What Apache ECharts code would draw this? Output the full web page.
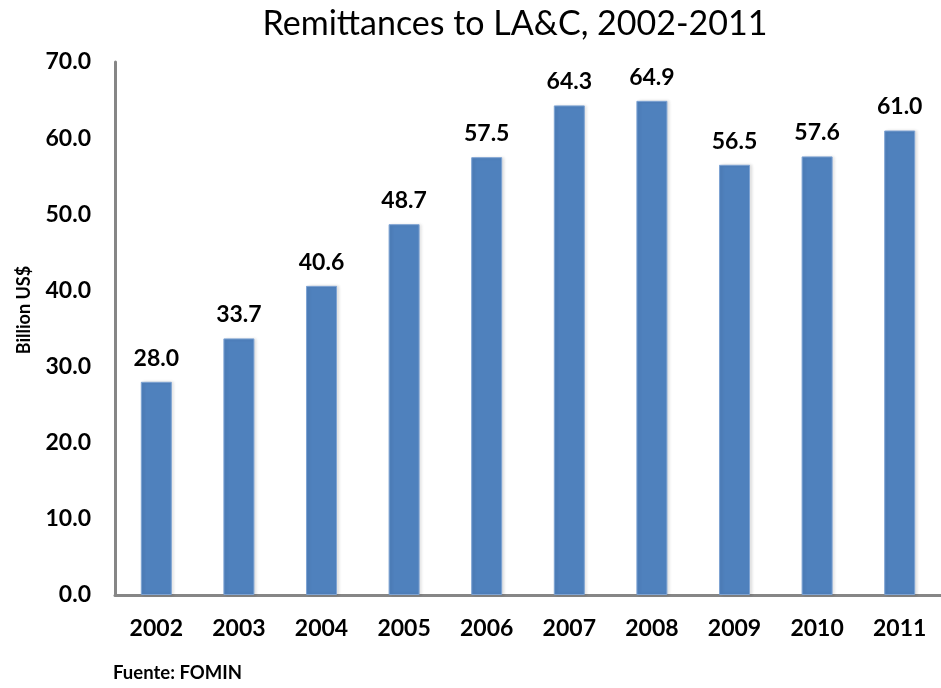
<!DOCTYPE html>
<html>
<head>
<meta charset="utf-8">
<script src="https://cdn.jsdelivr.net/npm/echarts@6/dist/echarts.min.js"></script>
<style>
  html, body { margin: 0; padding: 0; background: #fff; }
  #chart { width: 941px; height: 688px; }
</style>
</head>
<body>
<div id="chart"></div>
<script>
// Annual remittances to Latin America & Caribbean, billion US$
const years = ['2002', '2003', '2004', '2005', '2006', '2007', '2008', '2009', '2010', '2011'];
const remittances = [28.0, 33.7, 40.6, 48.7, 57.5, 64.3, 64.9, 56.5, 57.6, 61.0];
const yTicks = [0, 10, 20, 30, 40, 50, 60, 70];

const font = 'Lato, "Open Sans", sans-serif';
const chart = echarts.init(document.getElementById('chart'), null, { renderer: 'canvas' });

chart.setOption({
  animation: false,
  backgroundColor: '#ffffff',
  title: {
    text: 'Remittances to LA&C, 2002-2011',
    left: 510,
    textAlign: 'center',
    top: 2,
    textStyle: { fontFamily: font, fontSize: 34, fontWeight: 'normal', color: '#000' }
  },
  graphic: [
    {
      type: 'text',
      left: 113,
      top: 664,
      style: { text: 'Fuente: FOMIN', font: 'bold 18.5px ' + font, fill: '#000' }
    },
    {
      type: 'text',
      x: 24,
      y: 310,
      rotation: Math.PI / 2,
      style: {
        text: 'Billion US$',
        font: 'bold 18px ' + font,
        fill: '#000',
        align: 'center',
        verticalAlign: 'middle'
      }
    }
  ],
  grid: { left: 115, right: -12, top: 62, bottom: 93, containLabel: false },
  xAxis: {
    type: 'category',
    data: years,
    axisLine: { lineStyle: { color: '#868686', width: 3 } },
    axisTick: { show: false },
    axisLabel: { fontFamily: font, fontSize: 23, fontWeight: 'bold', color: '#000', margin: 22 }
  },
  yAxis: {
    type: 'value',
    min: yTicks[0],
    max: yTicks[yTicks.length - 1],
    interval: 10,
    axisLine: { show: true, lineStyle: { color: '#868686', width: 3 } },
    axisTick: { show: false },
    splitLine: { show: false },
    axisLabel: {
      fontFamily: font, fontSize: 23, fontWeight: 'bold', color: '#000', margin: 24,
      formatter: v => v.toFixed(1)
    }
  },
  series: [{
    type: 'bar',
    data: remittances,
    barWidth: 31,
    itemStyle: {
      color: '#4F81BD',
      borderColor: '#7EA3D3',
      borderWidth: 1,
      shadowColor: 'rgba(0,0,0,0.12)',
      shadowBlur: 3,
      shadowOffsetX: 2,
      shadowOffsetY: 0
    },
    label: {
      show: true,
      position: 'top',
      distance: 12,
      fontFamily: font,
      fontSize: 23,
      fontWeight: 'bold',
      color: '#000',
      formatter: p => p.value.toFixed(1)
    }
  }]
});
</script>
</body>
</html>
